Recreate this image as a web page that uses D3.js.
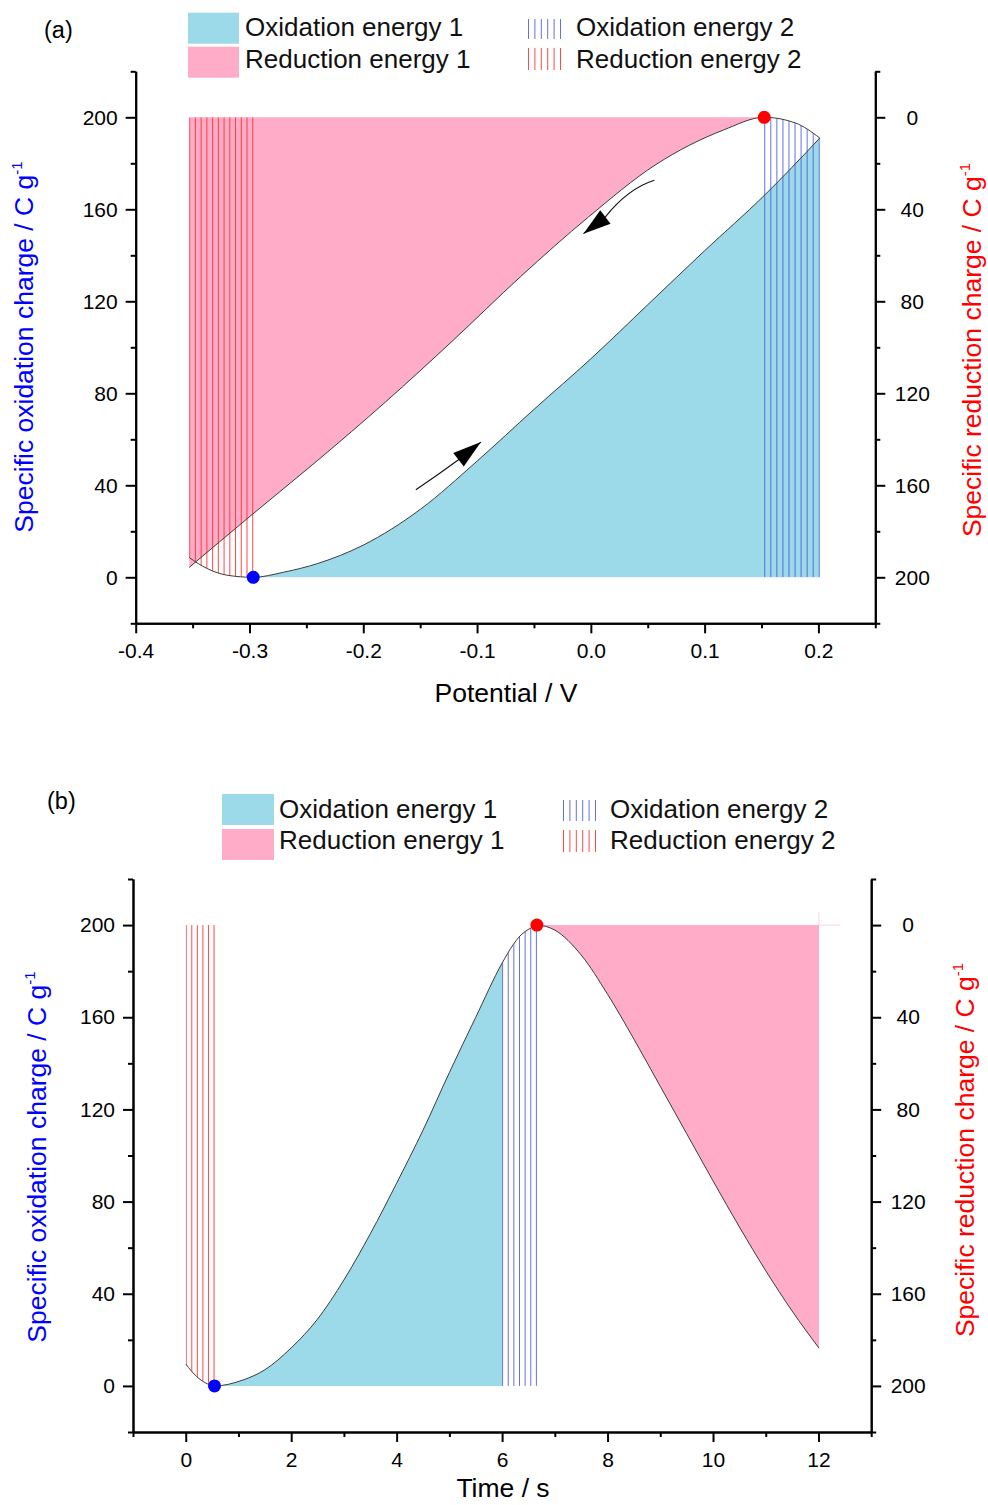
<!DOCTYPE html>
<html><head><meta charset="utf-8">
<script src="https://cdn.jsdelivr.net/npm/d3@7"></script>
<style>
body{margin:0;background:#fff;}
svg text{font-family:"Liberation Sans",Arial,Helvetica,sans-serif;}
</style></head><body>
<svg id="chart" width="988" height="1505"></svg>
<script>
// ---------------- DATA ----------------
// Panel (a): charge vs potential
const potentialOx = [-0.353,-0.3372,-0.3196,-0.2967,-0.27,-0.24,-0.2,-0.15,-0.1,-0.05,0,0.05,0.1,0.1524,0.2012];
const oxidationChargeA = [8.6,3.8,0.9,0,2.2,6,14,29.5,50.5,73,95,118.5,142,166,191];
const potentialRed = [-0.353,-0.2996,-0.2399,-0.1805,-0.1211,-0.0616,-0.0022,0.0573,0.1167,0.1524,0.18,0.2012];
const reductionChargeA = [195.7,173.5,149.1,123.8,97,69.2,43.4,20.5,5.5,0,2.5,9];
const oxMinPotential = -0.2967;   // blue dot
const redMinPotential = 0.1524;   // red dot
const potentialStart = -0.353, potentialEnd = 0.2012;
const arrowUpA = {tail:[-0.1538,38.1], ctrl:[-0.1350,44.3], base:[-0.1163,51.1], tip:[-0.0966,58.8]};
const arrowDownA = {tail:[0.0558,172.6], ctrl:[0.0327,169.0], base:[0.0128,156.7], tip:[-0.0065,149.4]};

// Panel (b): charge vs time
const timeB = [0,0.21,0.37,0.546,1.09,1.5,2,2.5,3,3.5,4,4.5,5,5.5,6,6.21,6.32,6.55,6.66,7,7.5,8,8.5,9,9.5,10,10.5,11,11.5,12.01];
const chargeB = [9.5,4,1.4,0,2.6,7,16.5,29,46,66,88,111,136,160,183.5,191.5,194.8,198.8,200,197.8,187,170,150.5,130,109.5,89,69,50,32.5,16.4];
const tMin = 0.546, tOxEnd = 6.0, tMax = 6.66, tEnd = 12.01;

// Ticks
const xTicksA = [-0.4,-0.3,-0.2,-0.1,0,0.1,0.2];
const xMinorA = [-0.35,-0.25,-0.15,-0.05,0.05,0.15,0.25];
const xTicksB = [0,2,4,6,8,10,12];
const xMinorB = [-1,1,3,5,7,9,11,13];
const yTicks = [0,40,80,120,160,200];
const yMinor = [-20,20,60,100,140,180,220];
const legendLabels = ["Oxidation energy 1","Reduction energy 1","Oxidation energy 2","Reduction energy 2"];

// ---------------- STYLE ----------------
const C_BLUE_FILL = "#9cd9e9", C_PINK_FILL = "#ffacc8";
const C_BLUE_LINE = "#4a5ad8", C_RED_LINE = "#ff2a2a";
const C_CURVE = "#3c3c3c";
const FS_TICK = 21, FS_TITLE = 26.5, FS_LEG = 26;

const svg = d3.select("#chart");
const defs = svg.append("defs");
const curve = d3.curveMonotoneX;

function clipRect(id, x0, x1){
  defs.append("clipPath").attr("id", id).append("rect")
    .attr("x", x0).attr("y", 0).attr("width", x1 - x0).attr("height", 1505);
}
function clipPathD(id, d){
  defs.append("clipPath").attr("id", id).append("path").attr("d", d);
}
function hatch(g, x0, x1, n, yTop, yBot, color, clipId){
  const xs = d3.range(n).map(i => x0 + 0.5 + i*(x1 - x0 - 1)/(n-1));
  const hg = g.append("g");
  if (clipId) hg.attr("clip-path", `url(#${clipId})`);
  hg.selectAll("line").data(xs).join("line")
    .attr("x1", d=>d).attr("x2", d=>d).attr("y1", yTop).attr("y2", yBot)
    .attr("stroke", color).attr("stroke-width", 1).attr("opacity", 0.85);
}
function drawAxes(g, x, yL, yR, xt, xm, fmt){
  const bottom = yL.range()[0], left = x.range()[0], right = x.range()[1];
  const ax = [];
  ax.push(g.append("g").attr("transform", `translate(0,${bottom})`)
    .call(d3.axisBottom(x).tickValues(xm).tickSize(5).tickSizeOuter(0).tickFormat("")));
  ax.push(g.append("g").attr("transform", `translate(0,${bottom})`)
    .call(d3.axisBottom(x).tickValues(xt).tickSize(10).tickSizeOuter(0).tickPadding(10).tickFormat(fmt)));
  ax.push(g.append("g").attr("transform", `translate(${left},0)`)
    .call(d3.axisLeft(yL).tickValues(yMinor).tickSize(5).tickSizeOuter(0).tickFormat("")));
  ax.push(g.append("g").attr("transform", `translate(${left},0)`)
    .call(d3.axisLeft(yL).tickValues(yTicks).tickSize(10).tickSizeOuter(0).tickPadding(8).tickFormat(d=>d)));
  ax.push(g.append("g").attr("transform", `translate(${right},0)`)
    .call(d3.axisRight(yR).tickValues(yMinor).tickSize(5).tickSizeOuter(0).tickFormat("")));
  const rAx = g.append("g").attr("transform", `translate(${right},0)`)
    .call(d3.axisRight(yR).tickValues(yTicks).tickSize(10).tickSizeOuter(0).tickFormat(d=>d));
  rAx.selectAll("text").attr("x", 37).attr("text-anchor", "middle");
  ax.push(rAx);
  ax.forEach(a => {
    a.select(".domain").attr("stroke", "#000").attr("stroke-width", 2);
    a.selectAll(".tick line").attr("stroke", "#000").attr("stroke-width", 2);
    a.selectAll("text").attr("font-size", FS_TICK).attr("fill", "#000")
      .attr("font-family", '"Liberation Sans",Arial,sans-serif');
  });
}
function yTitle(g, x, y, text, color){
  const t = g.append("text").attr("transform", `translate(${x},${y}) rotate(-90)`)
    .attr("text-anchor", "middle").attr("font-size", FS_TITLE).attr("fill", color);
  t.append("tspan").text(text);
  t.append("tspan").attr("dy", -11).attr("font-size", 15).text("-1");
}
function legend(g, L){
  g.append("rect").attr("x", L.sx).attr("y", L.sy1).attr("width", L.sw).attr("height", L.sh).attr("fill", C_BLUE_FILL);
  g.append("rect").attr("x", L.sx).attr("y", L.sy2).attr("width", L.sw).attr("height", L.sh).attr("fill", C_PINK_FILL);
  hatch(g, L.hx0, L.hx1, 6, L.hy1[0], L.hy1[1], C_BLUE_LINE, null);
  hatch(g, L.hx0, L.hx1, 6, L.hy2[0], L.hy2[1], C_RED_LINE, null);
  const tx = [[L.tx1, L.b1],[L.tx1, L.b2],[L.tx2, L.b1],[L.tx2, L.b2]];
  legendLabels.forEach((s,i) => g.append("text").attr("x", tx[i][0]).attr("y", tx[i][1])
    .attr("font-size", FS_LEG).attr("fill", "#111").text(s));
}
function arrow(g, x, y, a){
  const P = p => [x(p[0]), y(p[1])];
  const t = P(a.tail), c = P(a.ctrl), b = P(a.base), tp = P(a.tip);
  g.append("path").attr("d", `M${t[0]},${t[1]} Q${c[0]},${c[1]} ${b[0]},${b[1]} L${tp[0]},${tp[1]}`)
    .attr("fill", "none").attr("stroke", "#111").attr("stroke-width", 1.1);
  const dx = tp[0]-b[0], dy = tp[1]-b[1], len = Math.hypot(dx,dy);
  const nx = -dy/len*8.5, ny = dx/len*8.5;
  g.append("path").attr("d", `M${tp[0]},${tp[1]} L${b[0]+nx},${b[1]+ny} L${b[0]-nx},${b[1]-ny} Z`).attr("fill", "#000");
}

// ---------------- PANEL (a) ----------------
const gA = svg.append("g");
const xA = d3.scaleLinear().domain([-0.4,0.25]).range([135.7,875.3]);
const yA = d3.scaleLinear().domain([-20,220]).range([623.3,71.3]);
const yAR = d3.scaleLinear().domain([-20,220]).range([71.3,623.3]);
const oxA = potentialOx.map((p,i)=>({x:p, y:oxidationChargeA[i]}));
const redA = potentialRed.map((p,i)=>({x:p, y:reductionChargeA[i]}));

clipRect("cOx1A", xA(oxMinPotential), xA(potentialEnd));
clipRect("cRed1A", xA(potentialStart), xA(redMinPotential));
clipPathD("cOx2A", d3.area().x(d=>xA(d.x)).y0(yA(0)).y1(d=>yAR(d.y)).curve(curve)(redA));
clipPathD("cRed2A", d3.area().x(d=>xA(d.x)).y0(yAR(0)).y1(d=>yA(d.y)).curve(curve)(oxA));

gA.append("path").attr("clip-path","url(#cRed1A)")
  .attr("d", d3.area().x(d=>xA(d.x)).y0(yAR(0)).y1(d=>yAR(d.y)).curve(curve)(redA))
  .attr("fill", C_PINK_FILL);
gA.append("path").attr("clip-path","url(#cOx1A)")
  .attr("d", d3.area().x(d=>xA(d.x)).y0(yA(0)).y1(d=>yA(d.y)).curve(curve)(oxA))
  .attr("fill", C_BLUE_FILL);
hatch(gA, xA(redMinPotential), xA(potentialEnd), 10, yA(0), yA(220), C_BLUE_LINE, "cOx2A");
hatch(gA, xA(potentialStart), xA(oxMinPotential), 12, yAR(0), yA(-20), C_RED_LINE, "cRed2A");
gA.append("path").attr("d", d3.line().x(d=>xA(d.x)).y(d=>yA(d.y)).curve(curve)(oxA))
  .attr("fill","none").attr("stroke", C_CURVE).attr("stroke-width", 1);
gA.append("path").attr("d", d3.line().x(d=>xA(d.x)).y(d=>yAR(d.y)).curve(curve)(redA))
  .attr("fill","none").attr("stroke", C_CURVE).attr("stroke-width", 1);
gA.append("circle").attr("cx", xA(oxMinPotential)).attr("cy", yA(0)).attr("r", 6.5).attr("fill", "#0000ff");
gA.append("circle").attr("cx", xA(redMinPotential)).attr("cy", yAR(0)).attr("r", 6.5).attr("fill", "#ff0000");
arrow(gA, xA, yA, arrowUpA);
arrow(gA, xA, yA, arrowDownA);
drawAxes(gA, xA, yA, yAR, xTicksA, xMinorA, d=>d.toFixed(1));
gA.append("text").attr("x", 506).attr("y", 702).attr("text-anchor","middle").attr("font-size",FS_TITLE).attr("fill","#000").text("Potential / V");
yTitle(gA, 33, 347, "Specific oxidation charge / C g", "#0000ff");
yTitle(gA, 981, 350, "Specific reduction charge / C g", "#ff0000");
gA.append("text").attr("x", 44).attr("y", 38).attr("font-size", 23.5).attr("fill","#000").text("(a)");
legend(gA, {sx:188, sy1:12.7, sy2:46.7, sw:51, sh:31, hx0:528, hx1:561, hy1:[19,39], hy2:[48,70],
  tx1:245, tx2:576, b1:36, b2:68});

// ---------------- PANEL (b) ----------------
const gB = svg.append("g");
const xB = d3.scaleLinear().domain([-1,13]).range([133,871.2]);
const yB = d3.scaleLinear().domain([-20,220]).range([1432,879]);
const yBR = d3.scaleLinear().domain([-20,220]).range([879,1432]);
const ptsB = timeB.map((t,i)=>({x:t, y:chargeB[i]}));

clipRect("cOx1B", xB(tMin), xB(tOxEnd));
clipRect("cRed1B", xB(tMax), xB(tEnd));
clipPathD("cOx2B", d3.area().x(d=>xB(d.x)).y0(yB(0)).y1(d=>yB(d.y)).curve(curve)(ptsB));
clipPathD("cRed2B", d3.area().x(d=>xB(d.x)).y0(yB(200)).y1(d=>yB(d.y)).curve(curve)(ptsB));

gB.append("path").attr("clip-path","url(#cOx1B)")
  .attr("d", d3.area().x(d=>xB(d.x)).y0(yB(0)).y1(d=>yB(d.y)).curve(curve)(ptsB))
  .attr("fill", C_BLUE_FILL);
gB.append("path").attr("clip-path","url(#cRed1B)")
  .attr("d", d3.area().x(d=>xB(d.x)).y0(yB(200)).y1(d=>yB(d.y)).curve(curve)(ptsB))
  .attr("fill", C_PINK_FILL);
hatch(gB, xB(tOxEnd), xB(tMax), 7, yB(0), yB(220), C_BLUE_LINE, "cOx2B");
hatch(gB, xB(timeB[0]), xB(tMin), 6, yB(200), yB(-20), C_RED_LINE, "cRed2B");
gB.append("line").attr("x1", xB(tEnd)).attr("x2", xB(tEnd)).attr("y1", yB(200)-13).attr("y2", yB(200))
  .attr("stroke", "#ffd3e1").attr("stroke-width", 1);
gB.append("line").attr("x1", xB(tEnd)).attr("x2", xB(tEnd)+21).attr("y1", yB(200)).attr("y2", yB(200))
  .attr("stroke", "#ffd3e1").attr("stroke-width", 1);
gB.append("path").attr("d", d3.line().x(d=>xB(d.x)).y(d=>yB(d.y)).curve(curve)(ptsB))
  .attr("fill","none").attr("stroke", C_CURVE).attr("stroke-width", 1);
gB.append("circle").attr("cx", xB(tMin)).attr("cy", yB(0)).attr("r", 6.5).attr("fill", "#0000ff");
gB.append("circle").attr("cx", xB(tMax)).attr("cy", yB(200)).attr("r", 6.5).attr("fill", "#ff0000");
drawAxes(gB, xB, yB, yBR, xTicksB, xMinorB, d=>d);
gB.append("text").attr("x", 503).attr("y", 1497).attr("text-anchor","middle").attr("font-size",FS_TITLE).attr("fill","#000").text("Time / s");
yTitle(gB, 46, 1157, "Specific oxidation charge / C g", "#0000ff");
yTitle(gB, 974, 1150, "Specific reduction charge / C g", "#ff0000");
gB.append("text").attr("x", 47).attr("y", 809).attr("font-size", 23.5).attr("fill","#000").text("(b)");
legend(gB, {sx:222, sy1:794, sy2:829, sw:52, sh:31, hx0:563, hx1:596, hy1:[800,821], hy2:[830,852],
  tx1:279, tx2:610, b1:818, b2:849});
</script>
</body></html>
